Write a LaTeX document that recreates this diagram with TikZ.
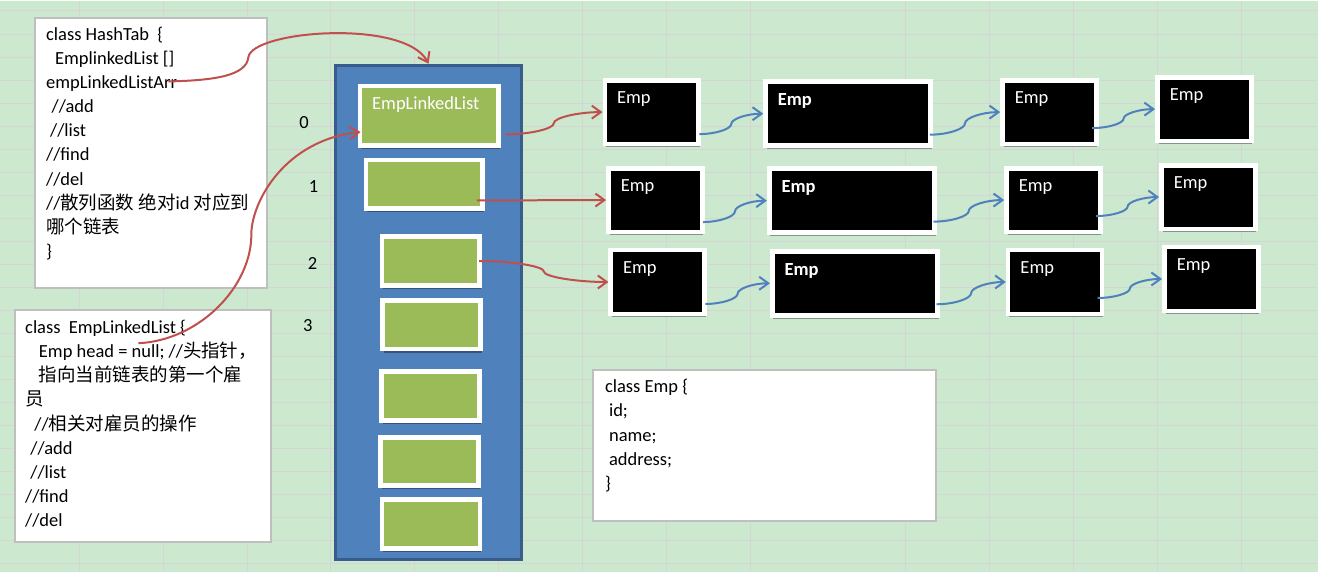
\documentclass[tikz,border=0pt]{standalone}
\usepackage{fontspec}
\setmainfont{Carlito}
\newfontfamily\cjk{Noto Sans CJK SC}
\usetikzlibrary{arrows.meta,calc,shadows}
\definecolor{sheetgreen}{HTML}{CCE8CF}
\definecolor{gridline}{HTML}{D5D5D5}
\definecolor{boxgray}{HTML}{BFBFBF}
\definecolor{linkred}{HTML}{C0504D}
\definecolor{linkblue}{HTML}{4F81BD}
\definecolor{arrfill}{HTML}{4F81BD}
\definecolor{arredge}{HTML}{385D8A}
\definecolor{cellgreen}{HTML}{9BBB59}
\newcommand{\codefont}{\fontsize{18.5}{24.1}\selectfont}

\begin{document}
\begin{tikzpicture}[x=1pt,y=-1pt,
	>={Straight Barb[length=9pt,width=13pt]},
	boxshadow/.style={drop shadow={shadow xshift=1.2pt,shadow yshift=-3.5pt,opacity=.35,fill=black}},
	codebox/.style={draw=boxgray,line width=2pt,fill=white,inner sep=0pt},
	codetext/.style={anchor=north west,align=left,inner sep=0pt,font=\codefont},
	cell/.style={draw=white,line width=4.7pt,fill=cellgreen,inner sep=0pt,minimum width=98pt,minimum height=48.6pt,boxshadow},
	emplabel/.style={anchor=base west,inner sep=0pt,text=white,font=\codefont,xshift=14.5pt,yshift=-26pt},
	empshape/.style={draw=white,line width=4.7pt,fill=black,inner sep=0pt,minimum height=63.8pt,boxshadow},
	emp/.style={empshape,minimum width=93.8pt,label={[emplabel]north west:Emp}},
	wideemp/.style={empshape,minimum width=165.3pt,label={[emplabel,font=\codefont\bfseries]north west:Emp}},
	idx/.style={font=\codefont},
	link/.style={->,line width=2pt,to path={let \p1=(\tikztostart),\p2=(\tikztotarget) in
		.. controls ({\x1+(\x2-\x1)/4},\y1) and ({(\x1+\x2)/2},{\y1+(\y2-\y1)/4}) .. ({(\x1+\x2)/2},{(\y1+\y2)/2})
		.. controls ({(\x1+\x2)/2},{\y1+3*(\y2-\y1)/4}) and ({\x1+3*(\x2-\x1)/4},\y2) .. (\x2,\y2) \tikztonodes}}]

	% sheet
	\fill[sheetgreen] (0,0) rectangle (1318,572);
	\foreach \k in {0,...,24}
		\draw[gridline,line width=1pt] (0,{10.5+23.03*\k}) -- (1318,{10.5+23.03*\k});
	\foreach \k in {0,...,8}
		\draw[gridline,line width=1pt] ({78.7+84*\k},0) -- ({78.7+84*\k},572);
	\foreach \k in {0,...,4}
		\draw[gridline,line width=1pt] ({905.5+84*\k},0) -- ({905.5+84*\k},572);
	\useasboundingbox (0,0) rectangle (1318,572);

	\node[codebox,minimum width=231.5pt,minimum height=270pt] (hashtab) at (150.45,152.7) {};
	\node[codetext] (hashtabtext) at (45.5,23) {\strut class HashTab\ \ \{\\
		\hspace*{9pt}EmplinkedList []\\
		empLinkedListArr\\
		\hspace*{5.5pt}//add\\
		\hspace*{4pt}//list\\
		//find\\
		//del\\
		//{\cjk 散列函数} {\cjk 绝对}id {\cjk 对应到}\\
		{\cjk 哪个链表}\\
		\}};

	\node[codebox,minimum width=256.2pt,minimum height=232.3pt] (llclass) at (142.9,426.15) {};
	\node[codetext] (llclasstext) at (24.5,316.4) {\strut class\ \ EmpLinkedList \{\\
		\hspace*{13.8pt}Emp head = null; //{\cjk 头指针，}\\
		\hspace*{13.8pt}{\cjk 指向当前链表的第一个雇}\\
		{\cjk 员}\\
		\hspace*{9.3pt}//{\cjk 相关对雇员的操作}\\
		\hspace*{5.2pt}//add\\
		\hspace*{5.2pt}//list\\
		//find\\
		//del};

	\node[codebox,minimum width=342.4pt,minimum height=151.4pt] (empclass) at (764.5,445) {};
	\node[codetext] (empclasstext) at (604.8,375.6) {\strut class Emp \{\\
		\hspace*{4pt}id;\\
		\hspace*{4pt}name;\\
		\hspace*{4pt}address;\\
		\}};

	% hash table array
	\node[draw=arredge,line width=3pt,fill=arrfill,inner sep=0pt,minimum width=185.7pt,minimum height=494.4pt] (arr) at (428.35,312) {};
	\node[cell,minimum width=138.7pt,minimum height=59.7pt,label={[emplabel]north west:EmpLinkedList}] (c0) at (429,115.5) {};
	\node[cell,minimum width=116.7pt] (c1) at (424,184) {};
	\node[cell] (c2) at (430.7,260.7) {};
	\node[cell] (c3) at (431.5,324.5) {};
	\node[cell] (c4) at (430.5,395.8) {};
	\node[cell] (c5) at (429.4,461.3) {};
	\node[cell] (c6) at (430.8,524) {};

	\node[idx] (i0) at (303.7,121.7) {0};
	\node[idx] (i1) at (313.4,186) {1};
	\node[idx] (i2) at (312.3,263.3) {2};
	\node[idx] (i3) at (307.5,325) {3};

	% linked lists
	\node[emp] (e00) at (651.7,111.7) {};
	\node[wideemp] (e01) at (848.3,113.3) {};
	\node[emp] (e02) at (1049.7,111.7) {};
	\node[emp] (e03) at (1204.7,108.7) {};
	\node[emp] (e10) at (655.3,199.7) {};
	\node[wideemp] (e11) at (852,200.3) {};
	\node[emp] (e12) at (1053.7,199.7) {};
	\node[emp] (e13) at (1208.7,196.7) {};
	\node[emp] (e20) at (657.7,281.7) {};
	\node[wideemp] (e21) at (855,283) {};
	\node[emp] (e22) at (1055.3,281.7) {};
	\node[emp] (e23) at (1211.7,278.7) {};

	\draw[link,linkred] ([shift={(4.3,18.5)}]c0.east) to (e00.west);
	\draw[link,linkred] ([shift={(-8,16)}]c1.east) to (e10.west);
	\draw[link,linkred] ([shift={(-3,0)}]c2.east) to (e20.west);
	\foreach \r in {0,1,2} {
		\draw[link,linkblue] ([shift={(-1.5,22)}]e\r0.east) to (e\r1.west);
		\draw[link,linkblue] ([shift={(-3.3,21)}]e\r1.east) to (e\r2.west);
		\draw[link,linkblue] ([shift={(-6.5,16)}]e\r2.east) to (e\r3.west);
	}

	\coordinate (arrfrom) at (168,81);
	\coordinate (headfrom) at (138,343);
	\draw[->,linkred,line width=2pt] (arrfrom) .. controls (215,80) and (246,75) .. (248,57) .. controls (251,30) and (405,18) .. (arr.north);
	\draw[->,linkred,line width=2pt] (headfrom) .. controls (200,340) and (252,285) .. (251,233) .. controls (252,200) and (285,140) .. ([shift={(3,16)}]c0.west);
\end{tikzpicture}
\end{document}
